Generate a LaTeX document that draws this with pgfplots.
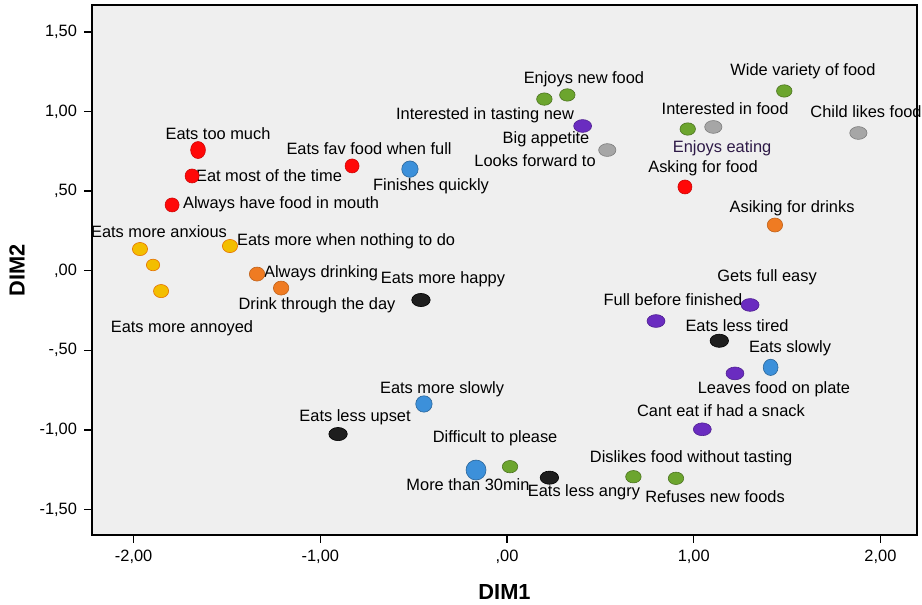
\documentclass[border=0pt]{standalone}
\usepackage{fontspec}
\setmainfont{Liberation Sans}
\usepackage{pgfplots}
\pgfplotsset{compat=1.18}
\definecolor{bgc}{HTML}{EFEFEF}
\definecolor{cred}{HTML}{FF0808}
\definecolor{cblue}{HTML}{3C90DA}
\definecolor{cyel}{HTML}{F3BE00}
\definecolor{corg}{HTML}{EF7B22}
\definecolor{cblk}{HTML}{1E1E1E}
\definecolor{cgrn}{HTML}{6CA52E}
\definecolor{cgry}{HTML}{A6A6A6}
\definecolor{cpur}{HTML}{6A2CC0}
\definecolor{dpur}{HTML}{2E1A47}
\begin{document}
\begin{tikzpicture}
\path[use as bounding box] (0,0) rectangle (461pt,302.5pt);
\begin{axis}[
  at={(46pt,35pt)}, anchor=south west,
  scale only axis, width=412.5pt, height=265pt,
  xmin=-2.223, xmax=2.196, ymin=-1.660, ymax=1.669,
  axis background/.style={fill=bgc},
  axis line style={black, line width=0.9pt},
  xtick={-2,-1,0,1,2},
  xticklabels={{-2,00},{-1,00},{,00},{1,00},{2,00}},
  ytick={-1.5,-1,-0.5,0,0.5,1,1.5},
  yticklabels={{-1,50},{-1,00},{-,50},{,00},{,50},{1,00},{1,50}},
  tick align=outside, tick pos=left,
  major tick length=4pt,
  tick style={black, line width=0.7pt},
  tick label style={font=\fontsize{8.2}{9}\selectfont},
  xlabel={DIM1}, ylabel={DIM2},
  label style={font=\fontsize{10.9}{12}\selectfont\bfseries},
  xlabel style={at={(rel axis cs:0.5,-0.1075)}, anchor=center},
  ylabel style={at={(rel axis cs:-0.0909,0.5)}, anchor=center},
  clip=false,
]
% red
\addplot[only marks, mark=*, mark size=3.5pt, mark options={fill=cred, draw=cred!80!black, line width=0.3pt}]
  coordinates {(-1.687,0.595) (-1.794,0.413) (-0.830,0.658) (0.953,0.526)};
\addplot[only marks, mark=*, mark size=3.7pt, mark options={fill=cred, draw=cred!80!black, line width=0.3pt, yscale=1.15}]
  coordinates {(-1.655,0.758)};
% blue
\addplot[only marks, mark=*, mark size=4.1pt, mark options={fill=cblue, draw=cblue!70!black, line width=0.3pt}]
  coordinates {(-0.520,0.638) (-0.445,-0.837)};
\addplot[only marks, mark=*, mark size=3.7pt, mark options={fill=cblue, draw=cblue!70!black, line width=0.3pt, yscale=1.1}]
  coordinates {(1.412,-0.607)};
\addplot[only marks, mark=*, mark size=5pt, mark options={fill=cblue, draw=cblue!70!black, line width=0.3pt}]
  coordinates {(-0.166,-1.252)};
% yellow
\addplot[only marks, mark=*, mark size=3.3pt, mark options={fill=cyel, draw=orange!90!black, line width=0.3pt, xscale=1.15}]
  coordinates {(-1.966,0.136) (-1.853,-0.128) (-1.484,0.155)};
\addplot[only marks, mark=*, mark size=2.9pt, mark options={fill=cyel, draw=orange!90!black, line width=0.3pt, xscale=1.15}]
  coordinates {(-1.896,0.036)};
% orange
\addplot[only marks, mark=*, mark size=3.5pt, mark options={fill=corg, draw=corg!80!black, line width=0.3pt, xscale=1.1}]
  coordinates {(-1.339,-0.021) (-1.210,-0.109) (1.435,0.287)};
% black
\addplot[only marks, mark=*, mark size=3.3pt, mark options={fill=cblk, draw=black, line width=0.3pt, xscale=1.4}]
  coordinates {(-0.461,-0.184) (-0.905,-1.026) (0.227,-1.300) (1.137,-0.440)};
% green
\addplot[only marks, mark=*, mark size=3.1pt, mark options={fill=cgrn, draw=cgrn!70!black, line width=0.3pt, xscale=1.25}]
  coordinates {(0.200,1.078) (0.323,1.104) (0.968,0.890) (1.485,1.129) (0.016,-1.231) (0.677,-1.294) (0.905,-1.304)};
% gray
\addplot[only marks, mark=*, mark size=3.2pt, mark options={fill=cgry, draw=cgry!75!black, line width=0.3pt, xscale=1.35}]
  coordinates {(1.105,0.903) (1.882,0.865) (0.537,0.758)};
% purple
\addplot[only marks, mark=*, mark size=3.2pt, mark options={fill=cpur, draw=cpur!75!black, line width=0.3pt, xscale=1.4}]
  coordinates {(0.405,0.909) (0.798,-0.316) (1.302,-0.215) (1.221,-0.645) (1.046,-0.996)};
% labels
\begin{scope}[every node/.style={font=\fontsize{8.2}{9}\selectfont, inner sep=0pt, anchor=center}]
\node at (axis cs:-1.548,0.859) {Eats too much};
\node at (axis cs:-1.275,0.595) {Eat most of the time};
\node at (axis cs:-1.210,0.419) {Always have food in mouth};
\node at (axis cs:-0.739,0.764) {Eats fav food when full};
\node at (axis cs:-0.407,0.532) {Finishes quickly};
\node at (axis cs:-0.118,0.978) {Interested in tasting new};
\node at (axis cs:-1.864,0.243) {Eats more anxious};
\node at (axis cs:-0.862,0.187) {Eats more when nothing to do};
\node at (axis cs:-0.996,-0.014) {Always drinking};
\node at (axis cs:-0.343,-0.052) {Eats more happy};
\node at (axis cs:-1.018,-0.215) {Drink through the day};
\node at (axis cs:-1.741,-0.360) {Eats more annoyed};
\node at (axis cs:-0.348,-0.743) {Eats more slowly};
\node at (axis cs:-0.814,-0.919) {Eats less upset};
\node at (axis cs:-0.064,-1.051) {Difficult to please};
\node at (axis cs:-0.209,-1.346) {More than 30min};
\node at (axis cs:0.412,-1.390) {Eats less angry};
\node at (axis cs:0.986,-1.177) {Dislikes food without tasting};
\node at (axis cs:1.114,-1.422) {Refuses new foods};
\node at (axis cs:1.146,-0.881) {Cant eat if had a snack};
\node at (axis cs:1.430,-0.743) {Leaves food on plate};
\node at (axis cs:1.516,-0.486) {Eats slowly};
\node at (axis cs:1.232,-0.347) {Eats less tired};
\node at (axis cs:0.889,-0.184) {Full before finished};
\node at (axis cs:1.393,-0.040) {Gets full easy};
\node at (axis cs:1.527,0.394) {Asiking for drinks};
\node at (axis cs:1.050,0.645) {Asking for food};
\node[text=dpur] at (axis cs:1.152,0.770) {Enjoys eating};
\node at (axis cs:1.168,1.016) {Interested in food};
\node at (axis cs:1.923,0.997) {Child likes food};
\node at (axis cs:1.585,1.254) {Wide variety of food};
\node at (axis cs:0.412,1.204) {Enjoys new food};
\node at (axis cs:0.209,0.827) {Big appetite};
\node at (axis cs:0.150,0.689) {Looks forward to};
\end{scope}
\end{axis}
\end{tikzpicture}
\end{document}
